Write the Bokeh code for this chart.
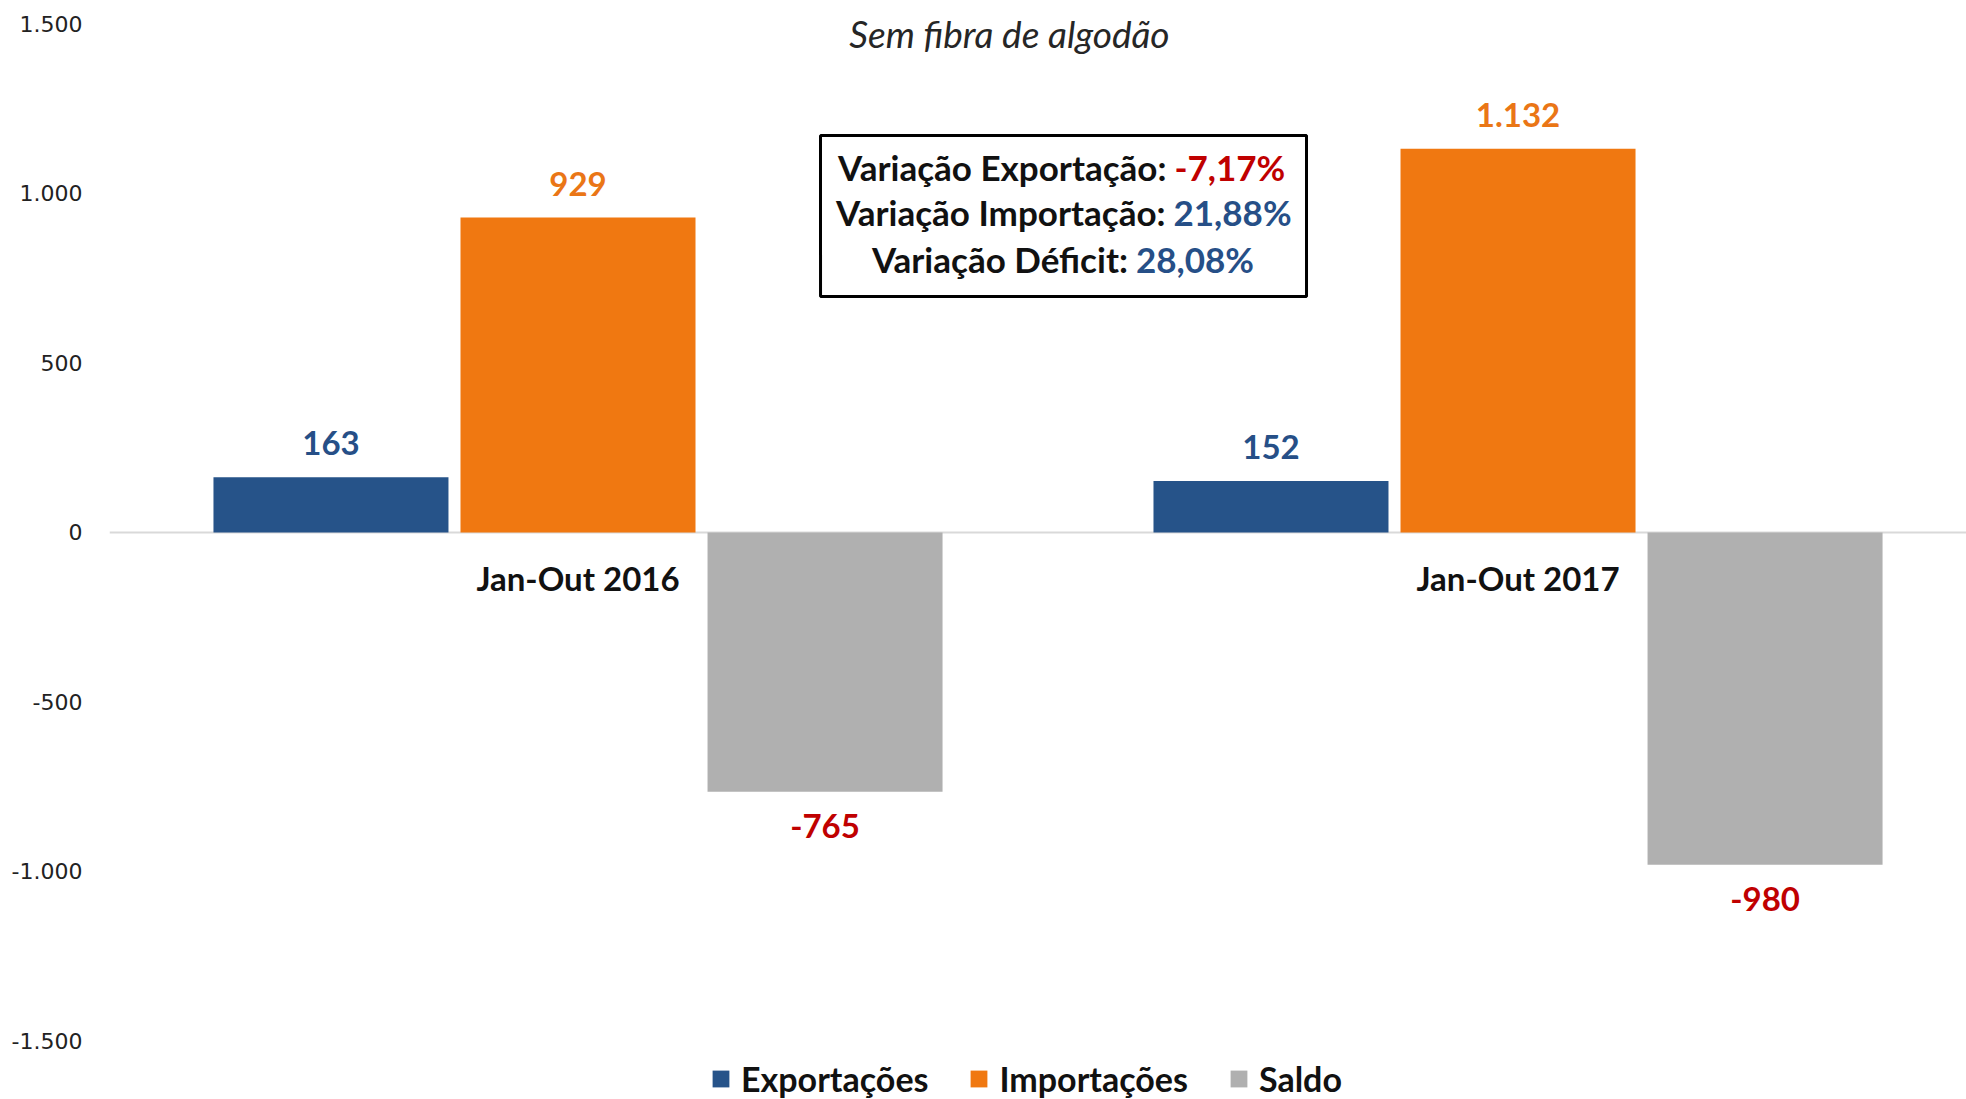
from bokeh.plotting import figure
from bokeh.models import ColumnDataSource, Range1d, FixedTicker, Span, Legend, LegendItem, BoxAnnotation
from bokeh.core.properties import value
from bokeh.embed import file_html
from bokeh.resources import INLINE

# ---- data ----
categories = ["Jan-Out 2016", "Jan-Out 2017"]
series_names = ["Exportações", "Importações", "Saldo"]
exportacoes = [163, 152]
importacoes = [929, 1132]
saldo = [-765, -980]
y_ticks = [1500, 1000, 500, 0, -500, -1000, -1500]
subtitle = "Sem fibra de algodão"
var_labels = ["Variação Exportação:", "Variação Importação:", "Variação Déficit:"]
var_values = ["-7,17%", "21,88%", "28,08%"]

# ---- styles ----
BAR_COLORS = ["#265389", "#F07811", "#B0B0B0"]
POS_LABEL_COLORS = ["#264F87", "#EA7616", "#C00000"]
RED = "#C00000"
BLUE_TXT = "#264F87"
FONT = "Lato"


def fmt(v):
    return f"{v:,}".replace(",", ".")


p = figure(width=1966, height=1099, output_backend="svg", toolbar_location=None,
           x_range=Range1d(-0.4984, 1.4771), y_range=Range1d(-1672.6, 1569.3),
           x_axis_location=None, min_border_left=109, min_border_right=0,
           min_border_top=0, min_border_bottom=0)
p.outline_line_color = None
p.xgrid.visible = False
p.ygrid.visible = False
p.background_fill_color = "white"

ax = p.yaxis[0]
ax.ticker = FixedTicker(ticks=y_ticks)
ax.major_label_overrides = {t: fmt(t) for t in y_ticks}
ax.axis_line_color = None
ax.major_tick_line_color = None
ax.minor_tick_line_color = None
ax.major_tick_out = 0
ax.major_tick_in = 0
ax.major_label_standoff = 27
ax.major_label_text_font = "DejaVu Sans"
ax.major_label_text_font_size = "22px"
ax.major_label_text_color = "#222222"

p.add_layout(Span(location=0, dimension="width", line_color="#D9D9D9", line_width=2, level="underlay"))

offset = 0.2628
bw = 0.25
all_series = [exportacoes, importacoes, saldo]
renderers = []
for i, vals in enumerate(all_series):
    xs = [g + (i - 1) * offset for g in range(len(categories))]
    src = ColumnDataSource(dict(x=xs, top=vals))
    r = p.vbar(x="x", top="top", bottom=0, width=bw, source=src,
               fill_color=BAR_COLORS[i], line_color=None)
    renderers.append(r)
    pos = [j for j, v in enumerate(vals) if v >= 0]
    neg = [j for j, v in enumerate(vals) if v < 0]
    if pos:
        s = ColumnDataSource(dict(x=[xs[j] for j in pos], y=[vals[j] for j in pos],
                                  t=[fmt(vals[j]) for j in pos]))
        p.text(x="x", y="y", text="t", source=s, text_align="center", text_baseline="bottom",
               y_offset=-22, text_font=value(FONT), text_font_style="bold",
               text_font_size="33px", text_color=POS_LABEL_COLORS[i])
    if neg:
        s = ColumnDataSource(dict(x=[xs[j] for j in neg], y=[vals[j] for j in neg],
                                  t=[fmt(vals[j]) for j in neg]))
        p.text(x="x", y="y", text="t", source=s, text_align="center", text_baseline="top",
               y_offset=22, text_font=value(FONT), text_font_style="bold",
               text_font_size="33px", text_color=RED)

# category labels beneath zero line
cs = ColumnDataSource(dict(x=list(range(len(categories))), y=[0] * len(categories), t=categories))
p.text(x="x", y="y", text="t", source=cs, text_align="center", text_baseline="middle",
       y_offset=46, text_font=value(FONT), text_font_style="bold",
       text_font_size="33px", text_color="#111111")

# subtitle
p.text(x=[0.459], y=[1472], text=[subtitle], text_align="center", text_baseline="middle",
       text_font=value(FONT), text_font_style="italic", text_font_size="37px",
       text_color="#262626")

# annotation box
p.add_layout(BoxAnnotation(left=0.258, right=0.775, top=1171, bottom=696,
                           fill_color="white", fill_alpha=1.0, line_color="black",
                           line_alpha=1.0, line_width=3, level="annotation"))
split_x = [0.626, 0.625, 0.585]
line_y = [1077, 944, 808]
val_colors = [RED, BLUE_TXT, BLUE_TXT]
for k in range(3):
    p.text(x=[split_x[k]], y=[line_y[k]], text=[var_labels[k]], text_align="right",
           text_baseline="middle", text_font=value(FONT), text_font_style="bold",
           text_font_size="35px", text_color="#111111", level="overlay")
    p.text(x=[split_x[k]], y=[line_y[k]], text=[var_values[k]], text_align="left",
           text_baseline="middle", x_offset=8, text_font=value(FONT), text_font_style="bold",
           text_font_size="35px", text_color=val_colors[k], level="overlay")

legend = Legend(items=[LegendItem(label=series_names[i], renderers=[renderers[i]]) for i in range(3)],
                orientation="horizontal", location=(601, 0), margin=0, padding=0,
                spacing=40, glyph_width=21, glyph_height=21, label_standoff=10,
                label_text_font=FONT, label_text_font_style="bold",
                label_text_font_size="34px", label_text_color="#111111",
                border_line_color=None, background_fill_alpha=0)
p.add_layout(legend)

open("out.html", "w").write(file_html(p, INLINE))
